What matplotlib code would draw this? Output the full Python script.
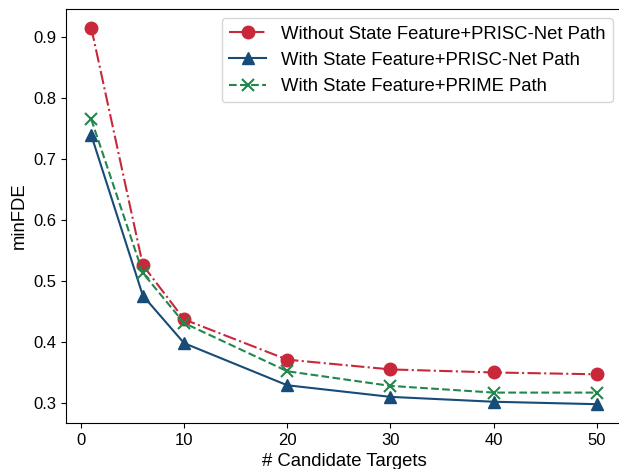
import matplotlib
matplotlib.use('Agg')
import matplotlib.pyplot as plt

plt.rcParams['font.family'] = ['Liberation Sans', 'DejaVu Sans']

# number of candidate targets
num_targets = [1, 6, 10, 20, 30, 40, 50]

# minFDE for each setting
without_state_prisc = [0.915, 0.526, 0.437, 0.371, 0.355, 0.350, 0.347]
with_state_prisc = [0.739, 0.476, 0.398, 0.329, 0.310, 0.302, 0.298]
with_state_prime = [0.765, 0.513, 0.431, 0.352, 0.328, 0.317, 0.317]

labels = ['Without State Feature+PRISC-Net Path',
          'With State Feature+PRISC-Net Path',
          'With State Feature+PRIME Path']

fig = plt.figure(figsize=(6.19, 4.69), dpi=100)
# the original is cropped on the right and bottom
ax = fig.add_axes([66/619, 1 - 423/469, 556/619, 414/469])

ax.plot(num_targets, without_state_prisc, color='#c8283a', linestyle='-.',
        marker='o', markersize=9, linewidth=1.5, label=labels[0])
ax.plot(num_targets, with_state_prisc, color='#174b78', linestyle='-',
        marker='^', markersize=9, linewidth=1.5, label=labels[1])
ax.plot(num_targets, with_state_prime, color='#22874a', linestyle='--',
        marker='x', markersize=9, markeredgewidth=1.5, linewidth=1.5,
        label=labels[2])

ax.set_xlabel('# Candidate Targets', fontsize=13.3)
ax.set_ylabel('minFDE', fontsize=13.3)
ax.tick_params(labelsize=12)
ax.set_xticks([0, 10, 20, 30, 40, 50])
ax.set_yticks([0.3, 0.4, 0.5, 0.6, 0.7, 0.8, 0.9])

ax.legend(loc='upper right', fontsize=13.3)

fig.savefig('out.png', dpi=100)
